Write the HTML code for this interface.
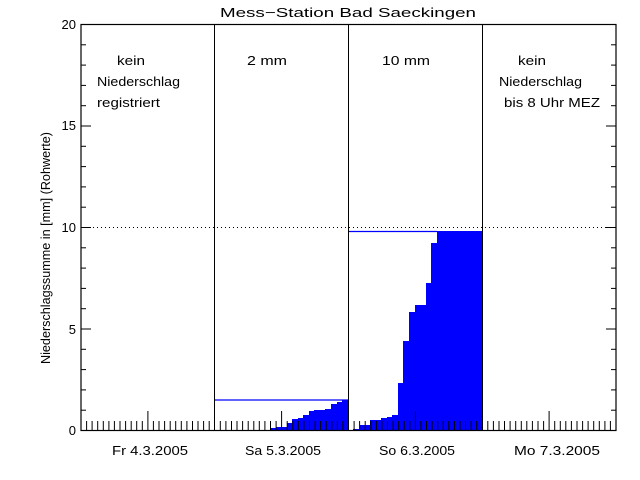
<!DOCTYPE html>
<html><head><meta charset="utf-8"><style>
html,body{margin:0;padding:0;background:#fff;}
svg{display:block;}
text{font-family:"Liberation Sans",sans-serif;font-size:13px;fill:#000;}
</style></head><body>
<svg id="s" width="640" height="480" viewBox="0 0 640 480" xmlns="http://www.w3.org/2000/svg">
<rect width="640" height="480" fill="#fff"/>
<g id="bars" fill="#0000ff" stroke="none"></g>
<line x1="214" y1="400" x2="348" y2="400" stroke="#0000ff" stroke-width="1.2"/>
<line x1="348" y1="231.5" x2="437" y2="231.5" stroke="#0000ff" stroke-width="1.2"/>
<line x1="81" y1="227.5" x2="616" y2="227.5" stroke="#000" stroke-dasharray="1,3"/>
<g id="ticks" stroke="#000" stroke-width="1"></g>
<rect x="81" y="24.5" width="535" height="406" fill="none" stroke="#000" stroke-width="1.2"/>
<line x1="214.5" y1="24" x2="214.5" y2="431" stroke="#000"/>
<line x1="348.5" y1="24" x2="348.5" y2="431" stroke="#000"/>
<line x1="482.5" y1="24" x2="482.5" y2="431" stroke="#000"/>
<text x="348" y="17" text-anchor="middle" font-size="14" textLength="256" lengthAdjust="spacingAndGlyphs">Mess−Station Bad Saeckingen</text>
<text x="76" y="435" text-anchor="end">0</text>
<text x="76" y="334" text-anchor="end">5</text>
<text x="76" y="232" text-anchor="end">10</text>
<text x="76" y="130" text-anchor="end">15</text>
<text x="76" y="29" text-anchor="end">20</text>
<text transform="translate(50,248) rotate(-90)" text-anchor="middle" textLength="232" lengthAdjust="spacingAndGlyphs">Niederschlagssumme in [mm] (Rohwerte)</text>
<text x="117" y="65" textLength="28" lengthAdjust="spacingAndGlyphs">kein</text>
<text x="97" y="86" textLength="83" lengthAdjust="spacingAndGlyphs">Niederschlag</text>
<text x="97" y="107" textLength="63" lengthAdjust="spacingAndGlyphs">registriert</text>
<text x="247" y="65" textLength="40" lengthAdjust="spacingAndGlyphs">2 mm</text>
<text x="382" y="65" textLength="48" lengthAdjust="spacingAndGlyphs">10 mm</text>
<text x="518" y="65" textLength="28" lengthAdjust="spacingAndGlyphs">kein</text>
<text x="499" y="86" textLength="83" lengthAdjust="spacingAndGlyphs">Niederschlag</text>
<text x="504" y="107" textLength="96" lengthAdjust="spacingAndGlyphs">bis 8 Uhr MEZ</text>
<text x="112" y="455" textLength="76" lengthAdjust="spacingAndGlyphs">Fr 4.3.2005</text>
<text x="245" y="455" textLength="76" lengthAdjust="spacingAndGlyphs">Sa 5.3.2005</text>
<text x="379" y="455" textLength="76" lengthAdjust="spacingAndGlyphs">So 6.3.2005</text>
<text x="514" y="455" textLength="86" lengthAdjust="spacingAndGlyphs">Mo 7.3.2005</text>
</svg>
<script>
var NS="http://www.w3.org/2000/svg";
function el(p,n,a){var e=document.createElementNS(NS,n);for(var k in a)e.setAttribute(k,a[k]);p.appendChild(e);return e;}
var t=document.getElementById("ticks"),b=document.getElementById("bars");
var x0=81,x1=616,yb=430.5,pu=20.3;
for(var i=0;i<=20;i++){var y=(yb-i*pu).toFixed(1);var L=(i%5==0)?10:5;
 el(t,"line",{x1:x0,y1:y,x2:x0+L,y2:y});el(t,"line",{x1:x1,y1:y,x2:x1-L,y2:y});}
var ph=(x1-x0)/96;
for(var h=0;h<=96;h++){var x=(x0+h*ph).toFixed(1);var L=(h%24==12)?20:10;if(h%24==0)continue;
 el(t,"line",{x1:x,y1:431,x2:x,y2:431-L});}
var steps=[[259,430],[270,428],[276,427],[287,423],[292,419],[298,418],[303,415],[309,411],[314,410],[320,410],[325,409],[331,404],[337,402],[342,400],[348,430],
[353,429],[360,425],[370,420],[381,418],[387,417],[392,415],[398,383],[403,341],[409,312],[415,305],[426,283],[431,243],[437,231],[482,431]];
for(var i=0;i<steps.length-1;i++){var s=steps[i],n=steps[i+1];if(s[1]>=430)continue;
 el(b,"rect",{x:s[0],y:s[1],width:n[0]-s[0]+0.3,height:431-s[1]});}
</script>
</body></html>
